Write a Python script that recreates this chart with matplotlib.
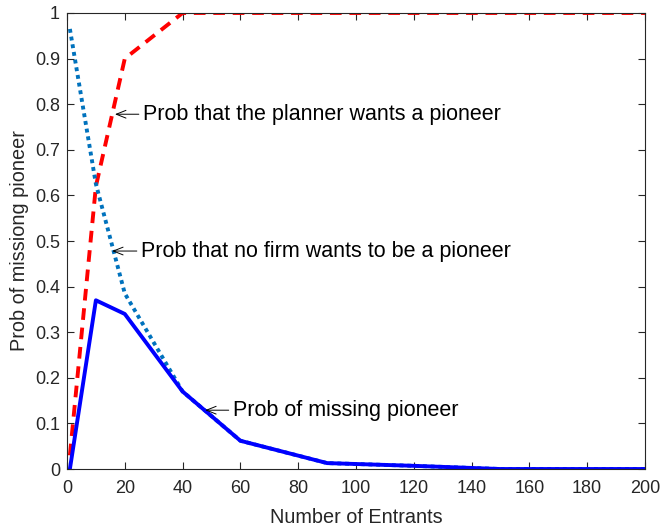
import matplotlib
matplotlib.use("Agg")
import matplotlib.pyplot as plt

plt.rcParams['font.family'] = ['Liberation Sans', 'DejaVu Sans']

x_vals = [1, 10, 20, 40, 60, 90, 120, 150, 200]
planner = [0.03, 0.62, 0.90, 1.0, 1.0, 1.0, 1.0, 1.0, 1.0]
no_firm = [0.965, 0.625, 0.385, 0.17, 0.062, 0.013, 0.007, 0.0, 0.0]
missing = [0.0, 0.37, 0.34, 0.17, 0.062, 0.013, 0.007, 0.0, 0.0]

xticks = [0, 20, 40, 60, 80, 100, 120, 140, 160, 180, 200]
yticks = [0, 0.1, 0.2, 0.3, 0.4, 0.5, 0.6, 0.7, 0.8, 0.9, 1]
ytick_labels = ['0', '0.1', '0.2', '0.3', '0.4', '0.5', '0.6', '0.7', '0.8', '0.9', '1']

fig = plt.figure(figsize=(6.62, 5.28), dpi=100)
ax = fig.add_axes([0.1012, 0.1117, 0.8731, 0.8637])

ax.plot(x_vals, planner, color='#ff0000', linestyle=(0, (3, 2)), linewidth=2.8)
ax.plot(x_vals, no_firm, color='#0072BD', linestyle=(0, (1, 1)), linewidth=2.8)
ax.plot(x_vals, missing, color='#0000ff', linestyle='-', linewidth=2.8)

afs = 15.5
arrow = dict(arrowstyle='->,head_length=0.45,head_width=0.18', lw=0.7, color='black',
             shrinkA=1, shrinkB=0)
ax.annotate('Prob that the planner wants a pioneer', xy=(16.6, 0.778), xytext=(26.3, 0.778),
            fontsize=afs, va='center', ha='left', arrowprops=arrow)
ax.annotate('Prob that no firm wants to be a pioneer', xy=(15.6, 0.478), xytext=(25.6, 0.478),
            fontsize=afs, va='center', ha='left', arrowprops=arrow)
ax.annotate('Prob of missing pioneer', xy=(47.8, 0.129), xytext=(57.4, 0.129),
            fontsize=afs, va='center', ha='left', arrowprops=arrow)

ax.set_xlim(0, 200)
ax.set_ylim(0, 1)
ax.set_xticks(xticks)
ax.set_yticks(yticks)
ax.set_yticklabels(ytick_labels)
ax.tick_params(direction='in', top=True, right=True, labelsize=13, colors='#262626', length=5)
ax.tick_params(axis='x', pad=8)
ax.tick_params(axis='y', pad=5)
for s in ax.spines.values():
    s.set_color('#262626')
    s.set_linewidth(0.8)
ax.set_xlabel('Number of Entrants', fontsize=14.3, color='#262626', labelpad=8)
ax.set_ylabel('Prob of missiong pioneer', fontsize=14.3, color='#262626', labelpad=4)

fig.savefig('out.png', dpi=100)
